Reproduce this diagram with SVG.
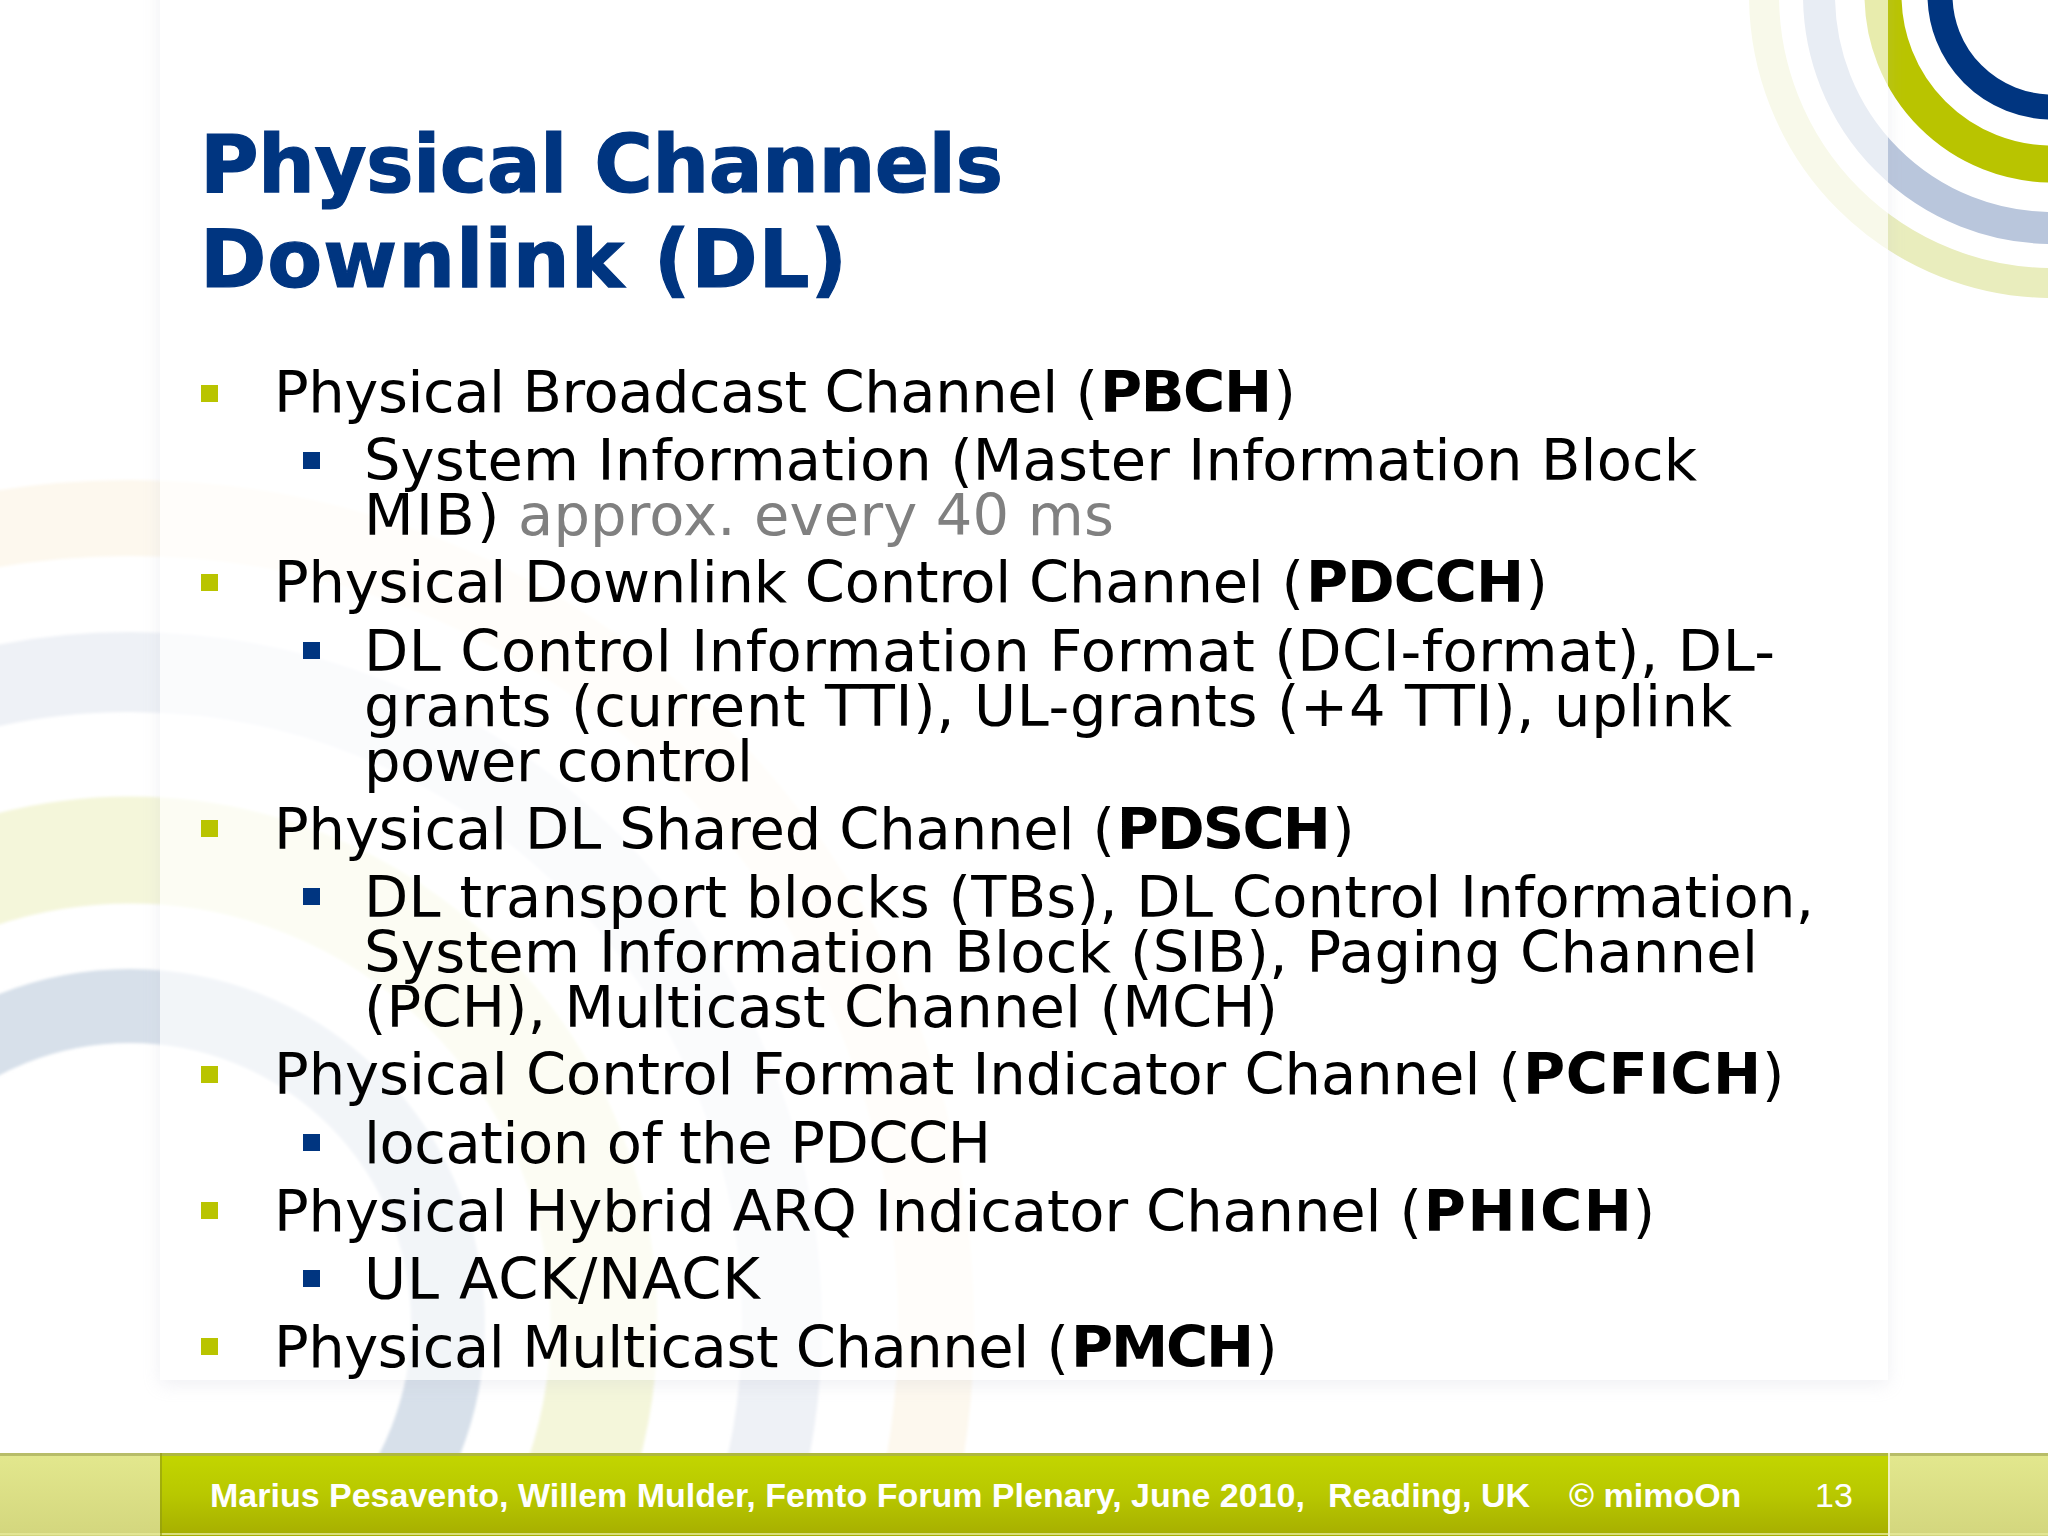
<svg xmlns="http://www.w3.org/2000/svg" width="2048" height="1536" viewBox="0 0 2048 1536">
<style>
text{font-family:"DejaVu Sans","Noto Sans",sans-serif}
.t{font-size:80px;font-weight:700;fill:#003580;stroke:#003580;stroke-width:1.2px}
.b{font-size:57.5px;fill:#000}
.k{font-weight:700}
.g{fill:#808080}
.l1{fill:#b9c400}
.l2{fill:#003580}
.f{font-family:"Liberation Sans",Arial,sans-serif;fill:#fff;font-size:34px}
</style>
<defs>
<linearGradient id="fg" x1="0" y1="0" x2="0" y2="1"><stop offset="0" stop-color="#c3d600"/><stop offset="0.5" stop-color="#b8c800"/><stop offset="1" stop-color="#a6ae00"/></linearGradient>
<linearGradient id="fs" x1="0" y1="0" x2="0" y2="1"><stop offset="0" stop-color="#e3e88e"/><stop offset="1" stop-color="#d3d67d"/></linearGradient>
<filter id="sh" x="-5%" y="-5%" width="110%" height="110%"><feGaussianBlur stdDeviation="9"/></filter>
<filter id="soft" x="-5%" y="-5%" width="110%" height="110%"><feGaussianBlur stdDeviation="1.5"/></filter>
<clipPath id="outside"><path clip-rule="evenodd" d="M0 0H2048V1536H0Z M160 0H1888V1380H160Z"/></clipPath>
</defs>
<rect width="2048" height="1536" fill="#fff"/>
<g id="watermark" fill="none" filter="url(#soft)">
<circle cx="130" cy="1324" r="318" stroke="#d7e0ea" stroke-width="74"/>
<circle cx="130" cy="1324" r="474" stroke="#f4f6da" stroke-width="107"/>
<circle cx="130" cy="1324" r="652" stroke="#eef1f6" stroke-width="80"/>
<circle cx="130" cy="1324" r="806" stroke="#fdf8ee" stroke-width="76"/>
</g>
<g id="rings" fill="none">
<circle cx="2052" cy="-5" r="112" stroke="#003580" stroke-width="25"/>
<circle cx="2052" cy="-5" r="169" stroke="#b9c400" stroke-width="37"/>
<circle cx="2052" cy="-5" r="233" stroke="#b9c6dc" stroke-width="32"/>
<circle cx="2052" cy="-5" r="288" stroke="#e9edbd" stroke-width="30"/>
</g>
<rect id="panel" x="160" y="0" width="1728" height="1380" fill="#fff" opacity="0.68"/>
<g id="panel-shadow" clip-path="url(#outside)"><rect x="160" y="-40" width="1728" height="1425" fill="#b4b6c8" opacity="0.2" filter="url(#sh)"/></g>
<g id="title">
<text class="t" x="200" y="192" textLength="803">Physical Channels</text>
<text class="t" x="200" y="287" textLength="647">Downlink (DL)</text>
</g>
<g id="bullets">
<rect class="l1" x="201" y="385" width="17" height="17"/>
<rect class="l2" x="303" y="452" width="17" height="17"/>
<rect class="l1" x="201" y="574" width="17" height="17"/>
<rect class="l2" x="303" y="642" width="17" height="17"/>
<rect class="l1" x="201" y="820" width="17" height="17"/>
<rect class="l2" x="303" y="888" width="17" height="17"/>
<rect class="l1" x="201" y="1066" width="17" height="17"/>
<rect class="l2" x="303" y="1134" width="17" height="17"/>
<rect class="l1" x="201" y="1202" width="17" height="17"/>
<rect class="l2" x="303" y="1270" width="17" height="17"/>
<rect class="l1" x="201" y="1338" width="17" height="17"/>
</g>
<g id="body">
<text class="b" y="412"><tspan x="274" textLength="824">Physical Broadcast Channel (</tspan><tspan class="k" x="1100" textLength="172">PBCH</tspan><tspan x="1273.5">)</tspan></text>
<text class="b" x="364" y="480" textLength="1333">System Information (Master Information Block</text>
<text class="b" y="535"><tspan x="364" textLength="156">MIB) </tspan><tspan class="g" x="518" textLength="596">approx. every 40 ms</tspan></text>
<text class="b" y="602"><tspan x="274" textLength="1030">Physical Downlink Control Channel (</tspan><tspan class="k" x="1306" textLength="218">PDCCH</tspan><tspan x="1525.6">)</tspan></text>
<text class="b" x="364" y="671" textLength="1411">DL Control Information Format (DCI-format), DL-</text>
<text class="b" x="364" y="726" textLength="1368">grants (current TTI), UL-grants (+4 TTI), uplink</text>
<text class="b" x="364" y="781" textLength="389">power control</text>
<text class="b" y="849"><tspan x="274" textLength="841">Physical DL Shared Channel (</tspan><tspan class="k" x="1116.8" textLength="214">PDSCH</tspan><tspan x="1332.3">)</tspan></text>
<text class="b" x="364" y="917" textLength="1450">DL transport blocks (TBs), DL Control Information,</text>
<text class="b" x="364" y="972" textLength="1394">System Information Block (SIB), Paging Channel</text>
<text class="b" x="364" y="1027" textLength="914">(PCH), Multicast Channel (MCH)</text>
<text class="b" y="1094"><tspan x="274" textLength="1247">Physical Control Format Indicator Channel (</tspan><tspan class="k" x="1523" textLength="238">PCFICH</tspan><tspan x="1762">)</tspan></text>
<text class="b" x="364" y="1163" textLength="627">location of the PDCCH</text>
<text class="b" y="1231"><tspan x="274" textLength="1148">Physical Hybrid ARQ Indicator Channel (</tspan><tspan class="k" x="1423.8" textLength="208">PHICH</tspan><tspan x="1632.7">)</tspan></text>
<text class="b" x="364" y="1299" textLength="396">UL ACK/NACK</text>
<text class="b" y="1367"><tspan x="274" textLength="795">Physical Multicast Channel (</tspan><tspan class="k" x="1071" textLength="183">PMCH</tspan><tspan x="1255.2">)</tspan></text>
</g>
<g id="footer">
<rect x="0" y="1453" width="160" height="83" fill="url(#fs)"/>
<rect x="1888" y="1453" width="160" height="83" fill="url(#fs)"/>
<rect x="160" y="1453" width="1728" height="83" fill="url(#fg)"/>
<rect x="0" y="1453" width="2048" height="3" fill="#a5ab5a" opacity="0.7"/>
<rect x="0" y="1533" width="2048" height="2" fill="#e6ea9a" opacity="0.8"/>
<rect x="1888" y="1453" width="2" height="83" fill="#f0f2c0"/>
<rect x="160" y="1453" width="2" height="83" fill="#8f9a10" opacity="0.6"/>
<text class="f" font-weight="700" y="1507"><tspan x="210">Marius Pesavento, Willem Mulder, Femto Forum Plenary, June 2010,</tspan><tspan x="1328">Reading, UK</tspan><tspan x="1569">© mimoOn</tspan></text>
<text class="f" x="1815" y="1507">13</text>
</g>
</svg>
